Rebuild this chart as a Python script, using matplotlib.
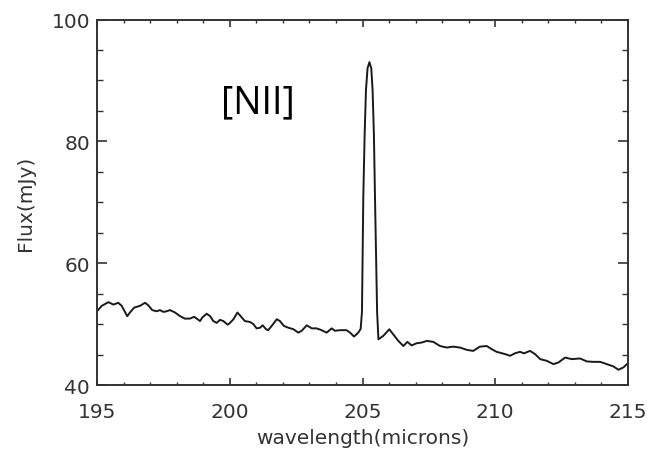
import numpy as np
import matplotlib
matplotlib.use("Agg")
import matplotlib.pyplot as plt
from matplotlib.ticker import MultipleLocator

# spectrum around the [NII] 205 micron line
wavelength = [
    195.0, 195.18, 195.43, 195.62, 195.8, 195.93, 196.14, 196.24, 196.4, 196.62,
    196.81, 196.93, 197.08, 197.25, 197.37, 197.5, 197.62, 197.75, 197.94, 198.13,
    198.31, 198.5, 198.66, 198.88, 198.97, 199.13, 199.26, 199.38, 199.51, 199.63,
    199.76, 199.92, 200.01, 200.14, 200.29, 200.45, 200.57, 200.76, 200.89, 201.01,
    201.14, 201.24, 201.37, 201.45, 201.58, 201.77, 201.89, 202.04, 202.21, 202.4,
    202.58, 202.71, 202.9, 203.09, 203.27, 203.46, 203.65, 203.84, 203.96, 204.15,
    204.4, 204.53, 204.68, 204.84, 204.93, 204.98, 205.03, 205.08, 205.13, 205.19,
    205.26, 205.33, 205.38, 205.43, 205.47, 205.55, 205.6, 205.78, 206.01, 206.16,
    206.35, 206.54, 206.69, 206.85, 207.04, 207.23, 207.42, 207.67, 207.92, 208.17,
    208.42, 208.67, 208.93, 209.17, 209.42, 209.68, 209.86, 210.05, 210.18, 210.37,
    210.56, 210.74, 210.93, 211.08, 211.31, 211.5, 211.69, 211.94, 212.19, 212.38,
    212.63, 212.88, 213.19, 213.45, 213.7, 213.95, 214.2, 214.45, 214.64, 214.83,
    214.96,
]
flux = [
    52.1, 53.0, 53.6, 53.2, 53.5, 53.0, 51.3, 51.9, 52.7, 53.0,
    53.5, 53.1, 52.3, 52.1, 52.3, 52.0, 52.1, 52.3, 51.9, 51.3,
    50.9, 50.9, 51.2, 50.5, 51.1, 51.7, 51.3, 50.5, 50.2, 50.7,
    50.5, 49.9, 50.2, 50.8, 51.9, 51.1, 50.5, 50.35, 50.0, 49.3,
    49.4, 49.8, 49.15, 49.0, 49.7, 50.8, 50.5, 49.7, 49.4, 49.15,
    48.6, 48.9, 49.8, 49.3, 49.3, 49.0, 48.6, 49.3, 48.9, 49.0,
    49.0, 48.6, 47.95, 48.6, 49.2, 52.0, 70.9, 81.0, 88.4, 92.0,
    93.0, 92.0, 88.4, 81.0, 70.9, 52.0, 47.5, 48.06, 49.15, 48.3,
    47.24, 46.4, 47.08, 46.5, 46.86, 46.97, 47.24, 47.08, 46.4, 46.15,
    46.3, 46.15, 45.77, 45.6, 46.3, 46.4, 45.9, 45.45, 45.3, 45.07,
    44.8, 45.2, 45.45, 45.2, 45.6, 45.07, 44.25, 43.97, 43.43, 43.7,
    44.5, 44.25, 44.36, 43.87, 43.8, 43.8, 43.43, 43.05, 42.5, 42.9,
    43.43,
]

xticks = [195, 200, 205, 210, 215]
yticks = [40, 60, 80, 100]

fig = plt.figure(figsize=(6.5, 4.52), dpi=100)
ax = fig.add_axes([0.1492, 0.146, 0.817, 0.8086])

ax.plot(wavelength, flux, color="#1a1a1a", lw=1.4)

ax.set_xlim(195, 215)
ax.set_ylim(40, 100)
ax.set_xticks(xticks)
ax.set_yticks(yticks)
ax.xaxis.set_minor_locator(MultipleLocator(1))
ax.yaxis.set_minor_locator(MultipleLocator(5))

for s in ax.spines.values():
    s.set_color("#333333")
    s.set_linewidth(1.4)

ax.tick_params(axis="both", which="both", direction="in", top=True, right=True,
               colors="#333333", labelcolor="#333333", labelsize=14.5)
ax.tick_params(axis="x", which="major", length=5, width=1.2, pad=12)
ax.tick_params(axis="x", which="minor", length=2.5, width=1.0)
ax.tick_params(axis="y", which="major", length=7.5, width=1.2, pad=5)
ax.tick_params(axis="y", which="minor", length=4, width=1.0)

ax.set_xlabel("wavelength(microns)", fontsize=14.5, color="#333333", labelpad=5)
ax.set_ylabel("Flux(mJy)", fontsize=14.5, color="#333333", labelpad=12)

ax.text(201.05, 84.7, "[NII]", fontsize=27, family="Open Sans",
        ha="center", va="baseline", color="black")

fig.savefig("out.png", dpi=100)
